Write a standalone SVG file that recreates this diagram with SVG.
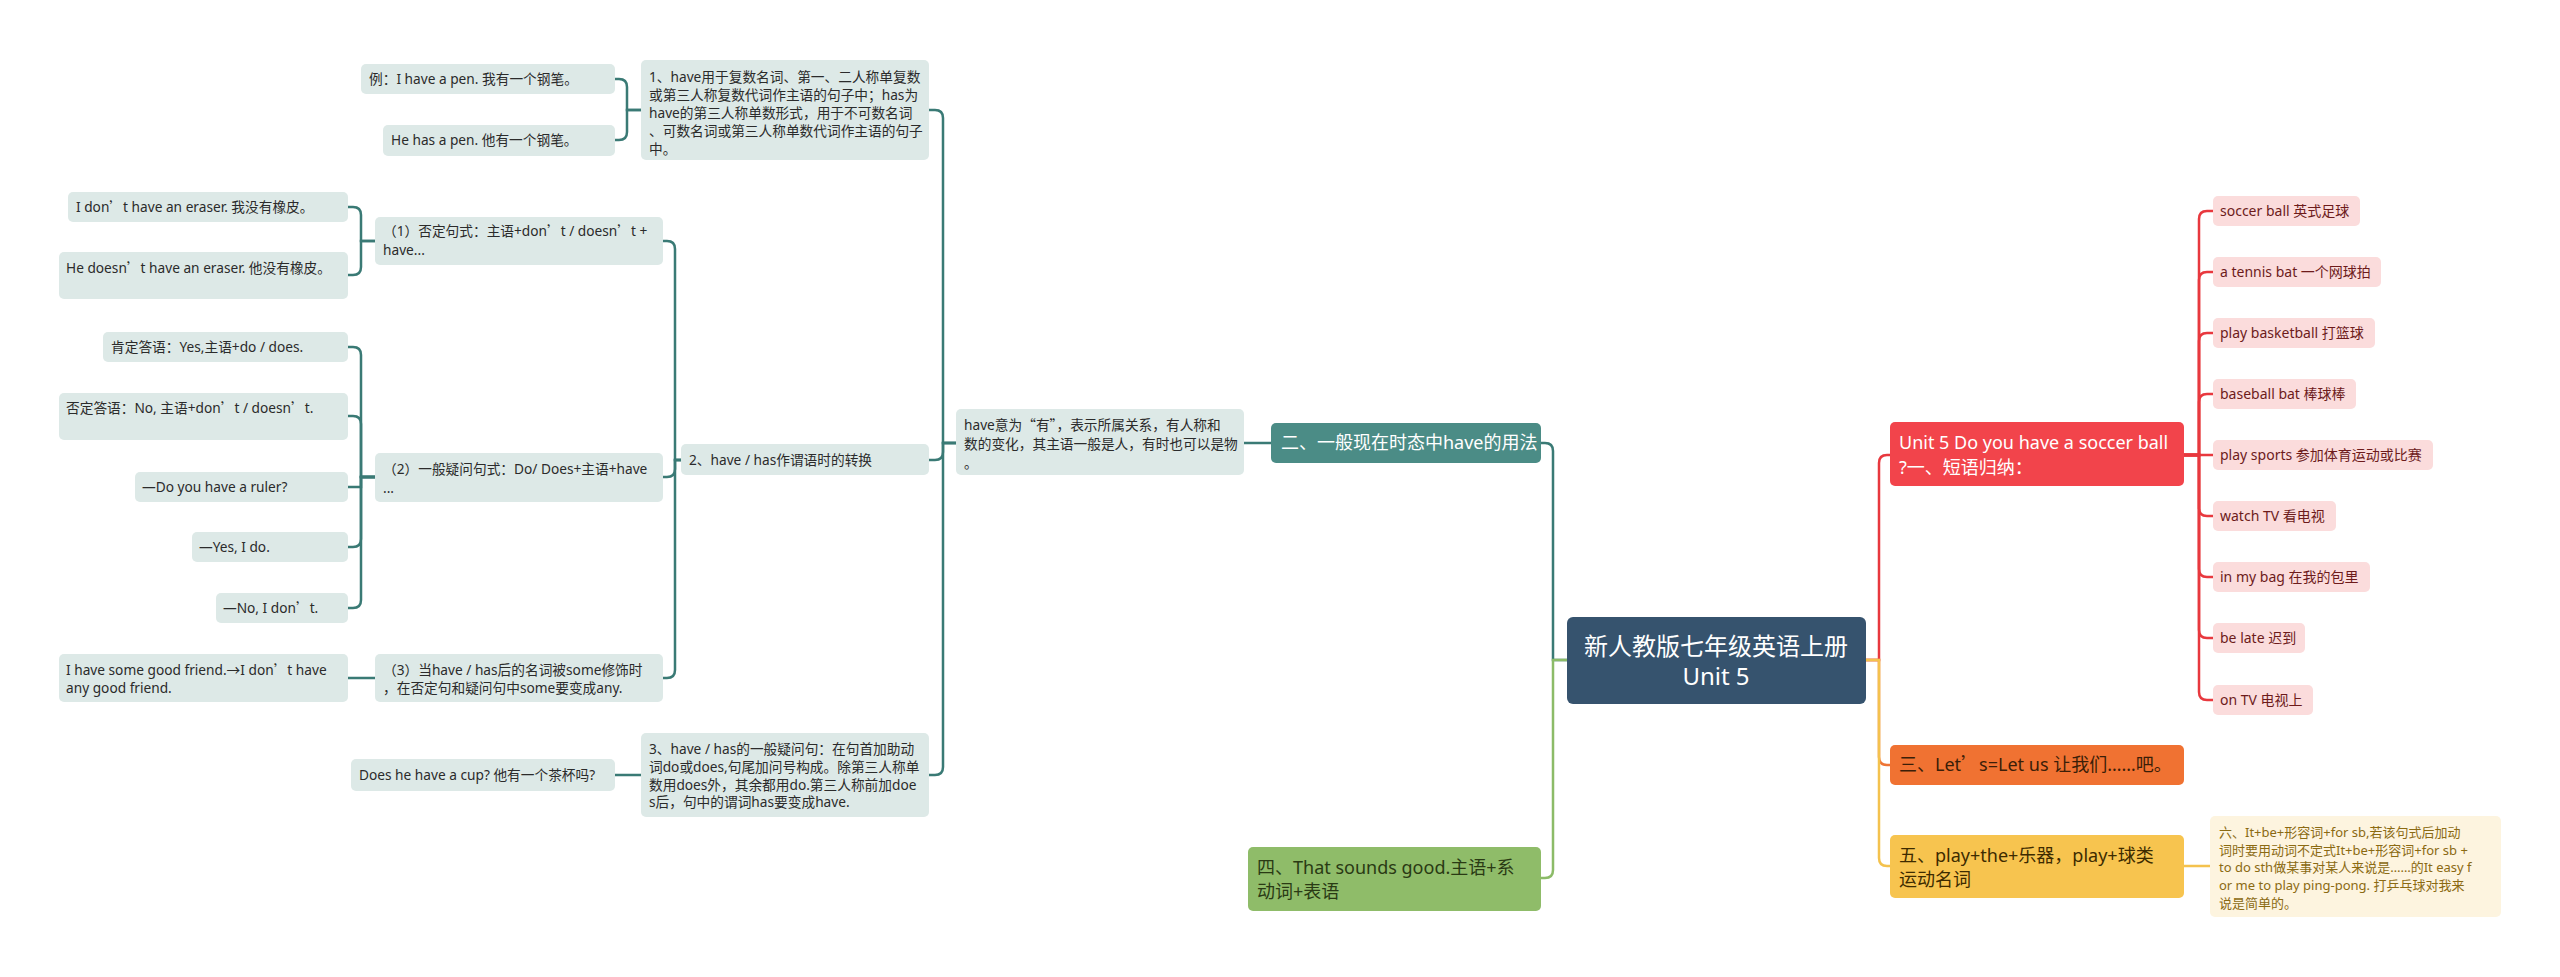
<svg xmlns="http://www.w3.org/2000/svg" width="2560" height="977" viewBox="0 0 2560 977">
<style>
text{font-family:"Noto Sans","Noto Sans CJK SC",sans-serif;}
.q{font-family:"Noto Sans CJK SC",sans-serif;}
.ln{fill:#dde9e7;}
.lt{font-size:13.7px;fill:#2b2b2b;}
.c{fill:none;stroke-width:2.5;stroke-linecap:round;}
.teal{stroke:#3a7a75;}
.red{stroke:#e8383e;}
.org{stroke:#ee7434;}
.yel{stroke:#f4c24e;}
.grn{stroke:#8cbb68;}
.leaf{fill:#fbdcdc;}
.lft{font-size:14px;fill:#6d1b1b;}
.big{font-size:18px;}
</style>
<rect width="2560" height="977" fill="#ffffff"/>
<g id="connectors">
<path class="c teal" d="M1567,660 H1553 V451 Q1553,443 1545,443 H1541"/>
<path class="c grn" d="M1567,660 H1553 V870 Q1553,878 1545,878 H1541"/>
<path class="c red" d="M1866,660 H1879 V463 Q1879,455 1887,455 H1890"/>
<path class="c org" d="M1866,660 H1879 V757 Q1879,765 1887,765 H1890"/>
<path class="c yel" d="M1866,660 H1879 V858 Q1879,866 1887,866 H1890"/>
<path class="c yel" d="M2184,866 H2210"/>
<path class="c red" d="M2184,455 H2199 V219 Q2199,211 2207,211 H2213"/>
<path class="c red" d="M2184,455 H2199 V280 Q2199,272 2207,272 H2213"/>
<path class="c red" d="M2184,455 H2199 V341 Q2199,333 2207,333 H2213"/>
<path class="c red" d="M2184,455 H2199 V402 Q2199,394 2207,394 H2213"/>
<path class="c red" d="M2184,455 H2213"/>
<path class="c red" d="M2184,455 H2199 V508 Q2199,516 2207,516 H2213"/>
<path class="c red" d="M2184,455 H2199 V569 Q2199,577 2207,577 H2213"/>
<path class="c red" d="M2184,455 H2199 V630 Q2199,638 2207,638 H2213"/>
<path class="c red" d="M2184,455 H2199 V692 Q2199,700 2207,700 H2213"/>
<path class="c teal" d="M1271,443 H1244"/>
<path class="c teal" d="M956,443 H943 V118 Q943,110 935,110 H929"/>
<path class="c teal" d="M956,443 H943 V452 Q943,460 935,460 H929"/>
<path class="c teal" d="M956,443 H943 V767 Q943,775 935,775 H929"/>
<path class="c teal" d="M641,110 H627 V87 Q627,79 619,79 H615"/>
<path class="c teal" d="M641,110 H627 V132 Q627,140 619,140 H615"/>
<path class="c teal" d="M641,775 H615"/>
<path class="c teal" d="M681,460 H675 V249 Q675,241 667,241 H663"/>
<path class="c teal" d="M681,460 H675 V469 Q675,477 667,477 H663"/>
<path class="c teal" d="M681,460 H675 V670 Q675,678 667,678 H663"/>
<path class="c teal" d="M375,241 H361 V215 Q361,207 353,207 H348"/>
<path class="c teal" d="M375,241 H361 V267 Q361,275 353,275 H348"/>
<path class="c teal" d="M375,477 H361 V355 Q361,347 353,347 H348"/>
<path class="c teal" d="M375,477 H361 V424 Q361,416 353,416 H348"/>
<path class="c teal" d="M375,477 H361 V487 H348"/>
<path class="c teal" d="M375,477 H361 V539 Q361,547 353,547 H348"/>
<path class="c teal" d="M375,477 H361 V600 Q361,608 353,608 H348"/>
<path class="c teal" d="M375,678 H348"/>
</g>
<g id="root">
<rect x="1567" y="617" width="299" height="87" rx="6" fill="#36536e"/>
<text x="1716" y="655" font-size="24" fill="#ffffff" text-anchor="middle">新人教版七年级英语上册</text>
<text x="1716" y="685" font-size="24" fill="#ffffff" text-anchor="middle">Unit 5</text>
</g>
<g id="n-er">
<rect x="1271" y="423" width="270" height="40" rx="5" fill="#4b8c86"/>
<text x="1281" y="449" class="big" fill="#ffffff">二、一般现在时态中have的用法</text>
</g>
<g id="n-si">
<rect x="1248" y="847" width="293" height="64" rx="5" fill="#8fbc69"/>
<text class="big" fill="#2a3a14"><tspan x="1257" y="874">四、That sounds good.主语+系</tspan><tspan x="1257" y="898">动词+表语</tspan></text>
</g>
<g id="n-unit5">
<rect x="1890" y="422" width="294" height="64" rx="5" fill="#f2444b"/>
<text class="big" fill="#ffffff"><tspan x="1899" y="449">Unit 5 Do you have a soccer ball</tspan><tspan x="1899" y="474">?一、短语归纳：</tspan></text>
</g>
<g id="n-san">
<rect x="1890" y="745" width="294" height="40" rx="5" fill="#f07232"/>
<text x="1899" y="771" class="big" fill="#3b1e08">三、Let<tspan class="q">’</tspan>s=Let us 让我们……吧。</text>
</g>
<g id="n-wu">
<rect x="1890" y="835" width="294" height="63" rx="5" fill="#f7c44f"/>
<text class="big" fill="#3d2b00"><tspan x="1899" y="862">五、play+the+乐器，play+球类</tspan><tspan x="1899" y="886">运动名词</tspan></text>
</g>
<g id="n-liu">
<rect x="2210" y="816" width="291" height="101" rx="5" fill="#fdf4df"/>
<text font-size="13" fill="#8b6a12"><tspan x="2219" y="837">六、It+be+形容词+for sb,若该句式后加动</tspan><tspan x="2219" y="855">词时要用动词不定式It+be+形容词+for sb +</tspan><tspan x="2219" y="872">to do sth做某事对某人来说是……的It easy f</tspan><tspan x="2219" y="890">or me to play ping-pong. 打乒乓球对我来</tspan><tspan x="2219" y="908">说是简单的。</tspan></text>
</g>
<g id="leaf-1"><rect class="leaf" x="2213" y="196" width="147" height="30" rx="5"/><text class="lft" x="2220" y="216">soccer ball 英式足球</text></g>
<g id="leaf-2"><rect class="leaf" x="2213" y="257" width="168" height="30" rx="5"/><text class="lft" x="2220" y="277">a tennis bat 一个网球拍</text></g>
<g id="leaf-3"><rect class="leaf" x="2213" y="318" width="162" height="30" rx="5"/><text class="lft" x="2220" y="338">play basketball 打篮球</text></g>
<g id="leaf-4"><rect class="leaf" x="2213" y="379" width="143" height="30" rx="5"/><text class="lft" x="2220" y="399">baseball bat 棒球棒</text></g>
<g id="leaf-5"><rect class="leaf" x="2213" y="440" width="220" height="30" rx="5"/><text class="lft" x="2220" y="460">play sports 参加体育运动或比赛</text></g>
<g id="leaf-6"><rect class="leaf" x="2213" y="501" width="123" height="30" rx="5"/><text class="lft" x="2220" y="521">watch TV 看电视</text></g>
<g id="leaf-7"><rect class="leaf" x="2213" y="562" width="157" height="30" rx="5"/><text class="lft" x="2220" y="582">in my bag 在我的包里</text></g>
<g id="leaf-8"><rect class="leaf" x="2213" y="623" width="92" height="30" rx="5"/><text class="lft" x="2220" y="643">be late 迟到</text></g>
<g id="leaf-9"><rect class="leaf" x="2213" y="685" width="100" height="30" rx="5"/><text class="lft" x="2220" y="705">on TV 电视上</text></g>
<g id="n-have">
<rect class="ln" x="956" y="409" width="288" height="66" rx="5"/>
<text class="lt"><tspan x="964" y="430">have意为<tspan class="q">“</tspan>有<tspan class="q">”</tspan>，表示所属关系，有人称和</tspan><tspan x="964" y="449">数的变化，其主语一般是人，有时也可以是物</tspan><tspan x="964" y="468">。</tspan></text>
</g>
<g id="n-1">
<rect class="ln" x="641" y="60" width="288" height="100" rx="5"/>
<text class="lt"><tspan x="649" y="82">1、have用于复数名词、第一、二人称单复数</tspan><tspan x="649" y="100">或第三人称复数代词作主语的句子中；has为</tspan><tspan x="649" y="118">have的第三人称单数形式，用于不可数名词</tspan><tspan x="649" y="136">、可数名词或第三人称单数代词作主语的句子</tspan><tspan x="649" y="154">中。</tspan></text>
</g>
<g id="n-1a"><rect class="ln" x="361" y="64" width="254" height="30" rx="5"/><text class="lt" x="369" y="84">例：I have a pen. 我有一个钢笔。</text></g>
<g id="n-1b"><rect class="ln" x="383" y="125" width="232" height="31" rx="5"/><text class="lt" x="391" y="145">He has a pen. 他有一个钢笔。</text></g>
<g id="n-2"><rect class="ln" x="681" y="444" width="248" height="31" rx="5"/><text class="lt" x="689" y="465">2、have / has作谓语时的转换</text></g>
<g id="n-2-1">
<rect class="ln" x="375" y="217" width="288" height="48" rx="5"/>
<text class="lt"><tspan x="383" y="236">（1）否定句式：主语+don<tspan class="q">’</tspan>t / doesn<tspan class="q">’</tspan>t +</tspan><tspan x="383" y="255">have...</tspan></text>
</g>
<g id="n-2-1a"><rect class="ln" x="68" y="192" width="280" height="30" rx="5"/><text class="lt" x="76" y="212">I don<tspan class="q">’</tspan>t have an eraser. 我没有橡皮。</text></g>
<g id="n-2-1b"><rect class="ln" x="59" y="252" width="289" height="47" rx="5"/><text class="lt" x="66" y="273">He doesn<tspan class="q">’</tspan>t have an eraser. 他没有橡皮。</text></g>
<g id="n-2-2">
<rect class="ln" x="375" y="453" width="288" height="49" rx="5"/>
<text class="lt"><tspan x="383" y="474">（2）一般疑问句式：Do/ Does+主语+have</tspan><tspan x="383" y="493">...</tspan></text>
</g>
<g id="n-2-2a"><rect class="ln" x="103" y="332" width="245" height="30" rx="5"/><text class="lt" x="111" y="352">肯定答语：Yes,主语+do / does.</text></g>
<g id="n-2-2b"><rect class="ln" x="59" y="393" width="289" height="47" rx="5"/><text class="lt" x="66" y="413">否定答语：No, 主语+don<tspan class="q">’</tspan>t / doesn<tspan class="q">’</tspan>t.</text></g>
<g id="n-2-2c"><rect class="ln" x="135" y="472" width="213" height="30" rx="5"/><text class="lt" x="142" y="492">—Do you have a ruler?</text></g>
<g id="n-2-2d"><rect class="ln" x="192" y="532" width="156" height="30" rx="5"/><text class="lt" x="199" y="552">—Yes, I do.</text></g>
<g id="n-2-2e"><rect class="ln" x="216" y="593" width="132" height="30" rx="5"/><text class="lt" x="223" y="613">—No, I don<tspan class="q">’</tspan>t.</text></g>
<g id="n-2-3">
<rect class="ln" x="375" y="654" width="288" height="48" rx="5"/>
<text class="lt"><tspan x="383" y="675">（3）当have / has后的名词被some修饰时</tspan><tspan x="383" y="693">，在否定句和疑问句中some要变成any.</tspan></text>
</g>
<g id="n-2-3a">
<rect class="ln" x="59" y="654" width="289" height="48" rx="5"/>
<text class="lt"><tspan x="66" y="675">I have some good friend.→I don<tspan class="q">’</tspan>t have</tspan><tspan x="66" y="693">any good friend.</tspan></text>
</g>
<g id="n-3">
<rect class="ln" x="641" y="733" width="288" height="84" rx="5"/>
<text class="lt"><tspan x="649" y="754">3、have / has的一般疑问句：在句首加助动</tspan><tspan x="649" y="772">词do或does,句尾加问号构成。除第三人称单</tspan><tspan x="649" y="790">数用does外，其余都用do.第三人称前加doe</tspan><tspan x="649" y="807">s后，句中的谓词has要变成have.</tspan></text>
</g>
<g id="n-3a"><rect class="ln" x="351" y="759" width="264" height="32" rx="5"/><text class="lt" x="359" y="780">Does he have a cup? 他有一个茶杯吗?</text></g>
</svg>
